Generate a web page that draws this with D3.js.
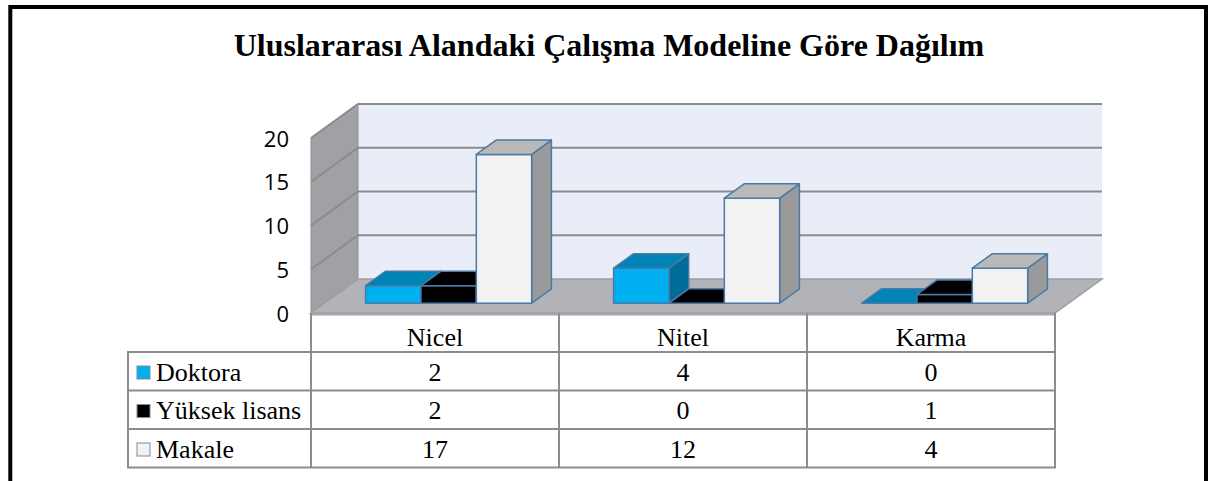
<!DOCTYPE html>
<html>
<head>
<meta charset="utf-8">
<script src="https://cdn.jsdelivr.net/npm/d3@7"></script>
<style>
  body { margin: 0; background: #fff; }
  svg { display: block; }
</style>
</head>
<body>
<script>
// chart values
var title = "Uluslararası Alandaki Çalışma Modeline Göre Dağılım";
var categories = ["Nicel", "Nitel", "Karma"];
var series = ["Doktora", "Yüksek lisans", "Makale"];
var doktora = [2, 4, 0];
var yuksekLisans = [2, 0, 1];
var makale = [17, 12, 4];
var yTicks = [0, 5, 10, 15, 20];

var values = [doktora, yuksekLisans, makale];

var w = 1208, h = 481;

// face colours per series: front, top, side
var colors = [
  {front: "#00b0f0", top: "#0083b5", side: "#006d98", key: "#00b0f0"},
  {front: "#000000", top: "#000000", side: "#000000", key: "#000000"},
  {front: "#f2f2f2", top: "#b9b9b9", side: "#9a9a9a", key: "#f2f2f2"}
];
var edge = "#4a7aa8";

var plot = {left: 311, right: 1055, base: 313};
var depth = {x: 47, y: -34};     // full floor depth
var barDepth = [0.29, 0.71];     // bars sit in the middle of the floor

var svg = d3.select("body").append("svg")
  .attr("width", w)
  .attr("height", h);

// frame
svg.append("rect")
  .attr("x", 10.3).attr("y", 7)
  .attr("width", 1195.7).attr("height", 520)
  .attr("fill", "none")
  .attr("stroke", "#000")
  .attr("stroke-width", 4);

svg.append("text")
  .attr("x", 609).attr("y", 56)
  .attr("text-anchor", "middle")
  .attr("font-family", "'Liberation Serif', 'Times New Roman', serif")
  .attr("font-weight", "bold")
  .attr("font-size", 32)
  .text(title);

var y = d3.scaleLinear().domain([0, 20]).range([plot.base, 138]);

var x = d3.scaleBand()
  .domain(categories)
  .range([plot.left, plot.right]);

var xs = d3.scaleBand()
  .domain(series)
  .range([0, x.bandwidth()])
  .paddingInner(0)
  .paddingOuter(0.74);

function pt(px, v, d) {
  return [px + d * depth.x, y(v) + d * depth.y];
}
function poly(points) {
  return points.map(function(p) { return p[0].toFixed(2) + "," + p[1].toFixed(2); }).join(" ");
}

var walls = svg.append("g");

// back wall
walls.append("polygon")
  .attr("points", poly([pt(plot.left, 20, 1), pt(plot.right, 20, 1), pt(plot.right, 0, 1), pt(plot.left, 0, 1)]))
  .attr("fill", "#e9edf8");

// left side wall
walls.append("polygon")
  .attr("points", poly([pt(plot.left, 20, 0), pt(plot.left, 20, 1), pt(plot.left, 0, 1), pt(plot.left, 0, 0)]))
  .attr("fill", "#9fa1a5")
  .attr("stroke", "#8e9094")
  .attr("stroke-width", 1);

// gridlines
yTicks.filter(function(t) { return t > 0; }).forEach(function(t) {
  var a = pt(plot.left, t, 0), b = pt(plot.left, t, 1), c = pt(plot.right, t, 1);
  walls.append("polyline")
    .attr("points", poly([a, b, c]))
    .attr("fill", "none")
    .attr("stroke", "#8b8b8b")
    .attr("stroke-width", 2);
});

// floor
walls.append("polygon")
  .attr("points", poly([pt(plot.left, 0, 0), pt(plot.left, 0, 1), pt(plot.right, 0, 1), pt(plot.right, 0, 0)]))
  .attr("fill", "#b1b3b9")
  .attr("stroke", "#9c9ea2")
  .attr("stroke-width", 1.5);
walls.append("line")
  .attr("x1", plot.left).attr("x2", plot.right)
  .attr("y1", y(0) + 1).attr("y2", y(0) + 1)
  .attr("stroke", "#a3a5a9")
  .attr("stroke-width", 3);

// bars, left to right
var bars = svg.append("g");
categories.forEach(function(cat, ci) {
  series.forEach(function(s, si) {
    var v = values[si][ci];
    var x0 = x(cat) + xs(s), x1 = x0 + xs.bandwidth();
    var d0 = barDepth[0], d1 = barDepth[1];
    var col = colors[si];
    var g = bars.append("g")
      .attr("stroke", edge)
      .attr("stroke-width", 1.5)
      .attr("stroke-linejoin", "round");
    if (v > 0) {
      g.append("polygon")
        .attr("points", poly([pt(x1, 0, d0), pt(x1, 0, d1), pt(x1, v, d1), pt(x1, v, d0)]))
        .attr("fill", col.side);
      g.append("polygon")
        .attr("points", poly([pt(x0, 0, d0), pt(x1, 0, d0), pt(x1, v, d0), pt(x0, v, d0)]))
        .attr("fill", col.front);
    }
    g.append("polygon")
      .attr("points", poly([pt(x0, v, d0), pt(x1, v, d0), pt(x1, v, d1), pt(x0, v, d1)]))
      .attr("fill", col.top);
  });
});

// y axis labels
var yAxis = d3.axisLeft(y).tickValues(yTicks).tickSize(0).tickPadding(0);
var ax = svg.append("g")
  .attr("transform", "translate(289,1)")
  .call(yAxis);
ax.select(".domain").remove();
ax.selectAll("text")
  .attr("font-family", "'Open Sans', 'Liberation Sans', sans-serif")
  .attr("font-size", 22)
  .attr("fill", "#000");

// data table
var table = svg.append("g");
var tableLeft = 128;
var headTop = plot.base, rowTop = 352, rowH = 38.5;
var lineColor = "#8c8c8c";
var serif = "'Liberation Serif', 'Times New Roman', serif";

// vertical lines
var cols = categories.map(function(c) { return x(c); }).concat([plot.right]);
cols.forEach(function(cx) {
  table.append("line")
    .attr("x1", cx).attr("x2", cx)
    .attr("y1", headTop).attr("y2", rowTop + rowH * series.length)
    .attr("stroke", lineColor).attr("stroke-width", 2);
});
table.append("line")
  .attr("x1", tableLeft).attr("x2", tableLeft)
  .attr("y1", rowTop).attr("y2", rowTop + rowH * series.length)
  .attr("stroke", lineColor).attr("stroke-width", 2);
// horizontal lines
d3.range(series.length + 1).forEach(function(r) {
  table.append("line")
    .attr("x1", tableLeft - 1).attr("x2", plot.right + 1)
    .attr("y1", rowTop + r * rowH).attr("y2", rowTop + r * rowH)
    .attr("stroke", lineColor).attr("stroke-width", 2);
});

table.selectAll(".head")
  .data(categories)
  .enter().append("text")
  .attr("x", function(d) { return x(d) + x.bandwidth() / 2; })
  .attr("y", headTop + 33)
  .attr("text-anchor", "middle")
  .attr("font-family", serif)
  .attr("font-size", 26)
  .text(function(d) { return d; });

series.forEach(function(s, si) {
  var top = rowTop + si * rowH;
  table.append("rect")
    .attr("x", tableLeft + 9).attr("y", top + 14)
    .attr("width", 13).attr("height", 13)
    .attr("fill", colors[si].key)
    .attr("stroke", "#7f8b99")
    .attr("stroke-width", 1);
  table.append("text")
    .attr("x", tableLeft + 28).attr("y", top + 28.6)
    .attr("font-family", serif)
    .attr("font-size", 26)
    .text(s);
  categories.forEach(function(c, ci) {
    table.append("text")
      .attr("x", x(c) + x.bandwidth() / 2)
      .attr("y", top + 28.6)
      .attr("text-anchor", "middle")
      .attr("font-family", serif)
      .attr("font-size", 26)
      .text(values[si][ci]);
  });
});
</script>
</body>
</html>
